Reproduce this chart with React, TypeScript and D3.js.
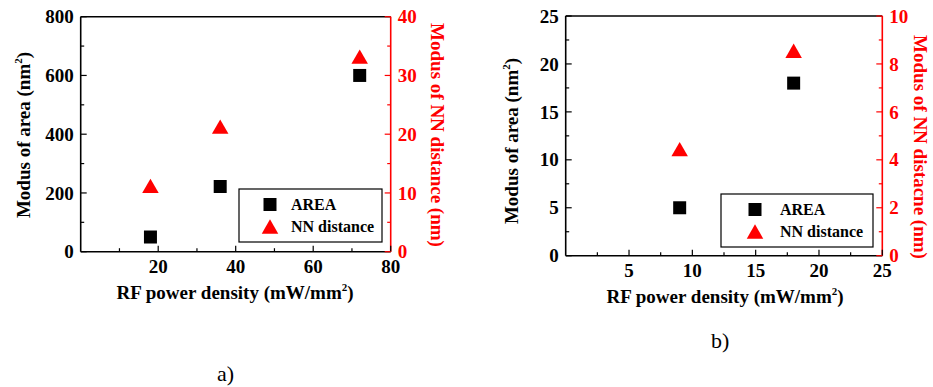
import * as d3 from "d3";

const FONT = "'Liberation Serif', 'Times New Roman', serif";
const RED = "#ff0000";

// panel a)
const POWER_A = [18, 36, 72];
const AREA_A = [50, 222, 600];
const NN_A = [11.2, 21.3, 33.2];
const X_TICKS_A = [20, 40, 60, 80];
const Y_TICKS_A = [0, 200, 400, 600, 800];
const Y2_TICKS_A = [0, 10, 20, 30, 40];

// panel b)
const POWER_B = [9, 18];
const AREA_B = [5, 18];
const NN_B = [4.45, 8.55];
const X_TICKS_B = [5, 10, 15, 20, 25];
const Y_TICKS_B = [0, 5, 10, 15, 20, 25];
const Y2_TICKS_B = [0, 2, 4, 6, 8, 10];

type PanelProps = {
  box: { x0: number; x1: number; y0: number; y1: number };
  xMax: number;
  yMax: number;
  y2Max: number;
  xTicks: number[];
  yTicks: number[];
  y2Ticks: number[];
  power: number[];
  area: number[];
  nn: number[];
  legend: { x0: number; x1: number; y0: number; y1: number; sym: number; text: number };
  titles: { xx: number; xy: number; ly: number; lx: number; rx: number; ry: number };
  rightTitle: string;
};

const square = d3.symbol(d3.symbolSquare, 169)() ?? "";
const triSize = 118;
const triangle = d3.symbol(d3.symbolTriangle, triSize)() ?? "";
// shift so the triangle's bounding box, not its centroid, sits on the value
const triShift = -Math.sqrt((triSize * 4) / Math.sqrt(3)) * (Math.sqrt(3) / 2) / 6;

function minors(ticks: number[]) {
  const out: number[] = [];
  for (let i = 0; i < ticks.length - 1; i += 1) out.push((ticks[i] + ticks[i + 1]) / 2);
  if (ticks[0] > 0) out.unshift(ticks[0] / 2);
  return out;
}

function Panel(p: PanelProps) {
  const { box } = p;
  const x = d3.scaleLinear().domain([0, p.xMax]).range([box.x0, box.x1]);
  const y = d3.scaleLinear().domain([0, p.yMax]).range([box.y1, box.y0]);
  const y2 = d3.scaleLinear().domain([0, p.y2Max]).range([box.y1, box.y0]);
  const major = 6;
  const minor = 3.5;
  const lg = p.legend;
  const midY = (lg.y0 + lg.y1) / 2;

  return (
    <g fontFamily={FONT} fontWeight="bold">
      {/* frame */}
      <line x1={box.x0} x2={box.x1} y1={box.y0} y2={box.y0} stroke="#000" strokeWidth={1.6} />
      <line x1={box.x0} x2={box.x0} y1={box.y0} y2={box.y1} stroke="#000" strokeWidth={1.6} />
      <line x1={box.x0} x2={box.x1} y1={box.y1} y2={box.y1} stroke="#000" strokeWidth={1.6} />
      <line x1={box.x1} x2={box.x1} y1={box.y0} y2={box.y1} stroke={RED} strokeWidth={1.6} />

      {/* bottom axis */}
      {p.xTicks.map((t) => (
        <g key={`x${t}`}>
          <line x1={x(t)} x2={x(t)} y1={box.y1} y2={box.y1 - major} stroke="#000" strokeWidth={1.2} />
          <text x={x(t)} y={box.y1 + 21} textAnchor="middle" fontSize={19}>
            {t}
          </text>
        </g>
      ))}
      {minors(p.xTicks).map((t) => (
        <line key={`xm${t}`} x1={x(t)} x2={x(t)} y1={box.y1} y2={box.y1 - minor} stroke="#000" strokeWidth={1.2} />
      ))}

      {/* left axis */}
      {p.yTicks.map((t) => (
        <g key={`y${t}`}>
          <line x1={box.x0} x2={box.x0 + major} y1={y(t)} y2={y(t)} stroke="#000" strokeWidth={1.2} />
          <text x={box.x0 - 7} y={y(t)} dy="0.35em" textAnchor="end" fontSize={19}>
            {t}
          </text>
        </g>
      ))}
      {minors(p.yTicks).map((t) => (
        <line key={`ym${t}`} x1={box.x0} x2={box.x0 + minor} y1={y(t)} y2={y(t)} stroke="#000" strokeWidth={1.2} />
      ))}

      {/* right axis */}
      {p.y2Ticks.map((t) => (
        <g key={`r${t}`}>
          <line x1={box.x1} x2={box.x1 - major} y1={y2(t)} y2={y2(t)} stroke={RED} strokeWidth={1.2} />
          <text x={box.x1 + 7} y={y2(t)} dy="0.35em" fontSize={19} fill={RED}>
            {t}
          </text>
        </g>
      ))}
      {minors(p.y2Ticks).map((t) => (
        <line key={`rm${t}`} x1={box.x1} x2={box.x1 - minor} y1={y2(t)} y2={y2(t)} stroke={RED} strokeWidth={1.2} />
      ))}

      {/* titles */}
      <text x={p.titles.xx} y={p.titles.xy} textAnchor="middle" fontSize={19}>
        RF power density (mW/mm
        <tspan fontSize={11} dy={-8}>
          2
        </tspan>
        <tspan dy={8}>)</tspan>
      </text>
      <text
        transform={`translate(${p.titles.lx},${p.titles.ly}) rotate(-90)`}
        textAnchor="middle"
        fontSize={19}
      >
        Modus of area (nm
        <tspan fontSize={11} dy={-8}>
          2
        </tspan>
        <tspan dy={8}>)</tspan>
      </text>
      <text
        transform={`translate(${p.titles.rx},${p.titles.ry}) rotate(90)`}
        textAnchor="middle"
        fontSize={19}
        fill={RED}
      >
        {p.rightTitle}
      </text>

      {/* data */}
      {p.nn.map((v, i) => (
        <path key={`t${i}`} d={triangle} fill={RED} transform={`translate(${x(p.power[i])},${y2(v) - triShift})`} />
      ))}
      {p.area.map((v, i) => (
        <path key={`s${i}`} d={square} fill="#000" transform={`translate(${x(p.power[i])},${y(v)})`} />
      ))}

      {/* legend */}
      <rect x={lg.x0} y={lg.y0} width={lg.x1 - lg.x0} height={lg.y1 - lg.y0} fill="#fff" stroke="#000" strokeWidth={1.2} />
      <path d={square} fill="#000" transform={`translate(${lg.sym},${midY - 11})`} />
      <path d={triangle} fill={RED} transform={`translate(${lg.sym},${midY + 11 - triShift})`} />
      <text x={lg.text} y={midY - 11} dy="0.35em" fontSize={16}>
        AREA
      </text>
      <text x={lg.text} y={midY + 11} dy="0.35em" fontSize={16}>
        NN distance
      </text>
    </g>
  );
}

export default function App() {
  return (
    <svg
      width={933}
      height={387}
      viewBox="0 0 933 387"
      style={{ position: "absolute", left: 0, top: 0, background: "#fff" }}
    >
      <Panel
        box={{ x0: 80.7, x1: 390.7, y0: 16.7, y1: 251.7 }}
        xMax={80}
        yMax={800}
        y2Max={40}
        xTicks={X_TICKS_A}
        yTicks={Y_TICKS_A}
        y2Ticks={Y2_TICKS_A}
        power={POWER_A}
        area={AREA_A}
        nn={NN_A}
        legend={{ x0: 239, x1: 382, y0: 189, y1: 242, sym: 270, text: 291 }}
        titles={{ xx: 235, xy: 299, lx: 30, ly: 135, rx: 431, ry: 135 }}
        rightTitle="Modus of NN distance (nm)"
      />
      <Panel
        box={{ x0: 565.7, x1: 882.3, y0: 16, y1: 255.7 }}
        xMax={25}
        yMax={25}
        y2Max={10}
        xTicks={X_TICKS_B}
        yTicks={Y_TICKS_B}
        y2Ticks={Y2_TICKS_B}
        power={POWER_B}
        area={AREA_B}
        nn={NN_B}
        legend={{ x0: 721, x1: 873, y0: 194, y1: 247, sym: 755, text: 780 }}
        titles={{ xx: 725, xy: 303, lx: 518, ly: 141, rx: 914, ry: 147 }}
        rightTitle="Modus of NN distacne (nm)"
      />
      <text x={217} y={381} fontFamily={FONT} fontSize={22}>
        a)
      </text>
      <text x={711} y={348} fontFamily={FONT} fontSize={22}>
        b)
      </text>
    </svg>
  );
}
